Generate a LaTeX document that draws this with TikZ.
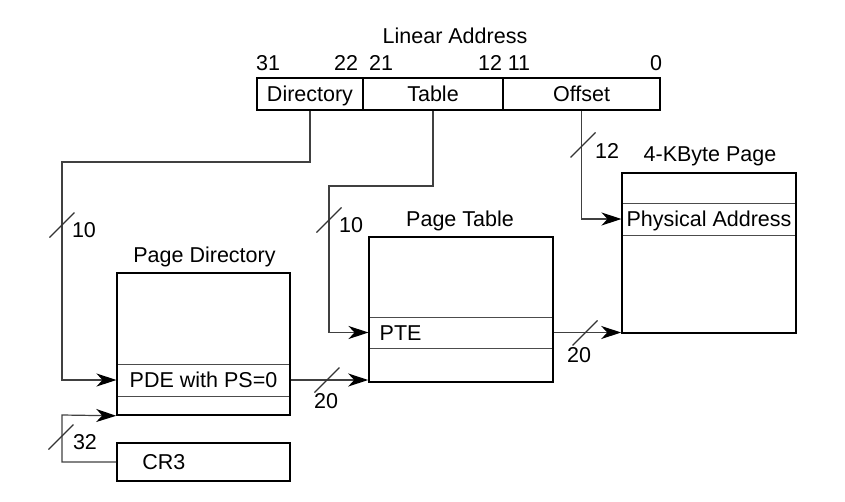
\documentclass[tikz,border=0pt]{standalone}
\usepackage{fontspec}
\setmainfont{Liberation Sans}
\usetikzlibrary{arrows.meta}

\begin{document}
\begin{tikzpicture}[x=1pt,y=1pt,yscale=-1,
  every node/.style={font=\fontsize{21.5}{25}\selectfont,inner sep=0pt},
  field/.style={draw,line width=1.5pt,minimum height=32pt,text height=15pt,text depth=0pt},
  tblbox/.style={draw,line width=1.6pt},
  entry/.style={draw=black!70,line width=1pt,text height=15pt,text depth=0pt},
  conn/.style={draw=black!75,line width=1.2pt},
  tip/.style={-{Stealth[length=20pt,width=13pt,inset=6pt,black]}},
  busmark/.style={draw=black!80,line width=1.2pt},
  lbl/.style={anchor=base}]
\useasboundingbox (0,0) rectangle (845,501);

%Linear address fields
\node[field,minimum width=106pt] (dir) at (310,94) {Directory};
\node[field,minimum width=140pt] (tbl) at (433,94) {Table};
\node[field,minimum width=157pt] (off) at (581.5,94) {Offset};

% Text Node
\node[lbl] (linaddr) at (455,43) {Linear Address};
% Text Node
\node[lbl] (b31) at (268,70) {31};
\node[lbl] (b22) at (346,70) {22};
\node[lbl] (b21) at (381,70) {21};
\node[lbl] (b12) at (490,70) {12};
\node[lbl] (b11) at (519,70) {11};
\node[lbl] (b0) at (656,70) {0};

%Page directory
\node[entry,minimum width=173pt,minimum height=32pt] (pde) at (203.5,380) {PDE with PS=0};
\node[tblbox,minimum width=173pt,minimum height=142pt] (pd) at (203.5,344) {};
\node[lbl] (pdtitle) at (204.5,262) {Page Directory};

%CR3
\node[tblbox,minimum width=173pt,minimum height=38pt] (cr3) at (203.5,462) {};
\node[anchor=west,inner xsep=26pt,text height=15pt,text depth=0pt] (cr3text) at (cr3.west) {CR3};

%Page table
\node[entry,minimum width=184pt,minimum height=31pt] (pte) at (461,332.5) {};
\node[anchor=west,inner xsep=11pt,text height=15pt,text depth=0pt] (ptetext) at (pte.west) {PTE};
\node[tblbox,minimum width=184pt,minimum height=145pt] (pt) at (461,309.5) {};
\node[lbl] (pttitle) at (460,226) {Page Table};

%4-KByte page
\node[entry,minimum width=174pt,minimum height=32pt] (pa) at (709,219) {Physical Address};
\node[tblbox,minimum width=174pt,minimum height=160pt] (pg) at (709,253) {};
\node[lbl] (pgtitle) at (710,161) {4-KByte Page};

%Bends
\coordinate (dirbend) at (62,162);
\coordinate (tblbend) at (329,186);
\coordinate (crbend) at (62,415);

%Connectors
\draw[conn,tip] (dir.south) |- (dirbend) |- (pde.west);
\draw[conn,tip] (tbl.south) |- (tblbend) |- (pte.west);
\draw[conn,tip] (off.south) |- (pa.west);
\draw[conn,tip] (pde.east) -- (pde.east -| pt.west);
\draw[conn,tip] (pte.east) -- (pte.east -| pg.west);
\draw[conn,tip] (cr3.west) -| (crbend) -- (pd.south west);

%Bus widths
\draw[busmark] (62,225) +(-12.5,12.5) -- +(12.5,-12.5);
\node (w1) at (84,230) {10};
\draw[busmark] (329,220) +(-12.5,12.5) -- +(12.5,-12.5);
\node (w2) at (351,225) {10};
\draw[busmark] (583,145) +(-12.5,12.5) -- +(12.5,-12.5);
\node (w3) at (607,151) {12};
\draw[busmark] (327,380) +(-12.5,12.5) -- +(12.5,-12.5);
\node (w4) at (326,401) {20};
\draw[busmark] (585,333) +(-12.5,12.5) -- +(12.5,-12.5);
\node (w5) at (579,355) {20};
\draw[busmark] (61,437) +(-12.5,12.5) -- +(12.5,-12.5);
\node (w6) at (85,442) {32};

\end{tikzpicture}
\end{document}
